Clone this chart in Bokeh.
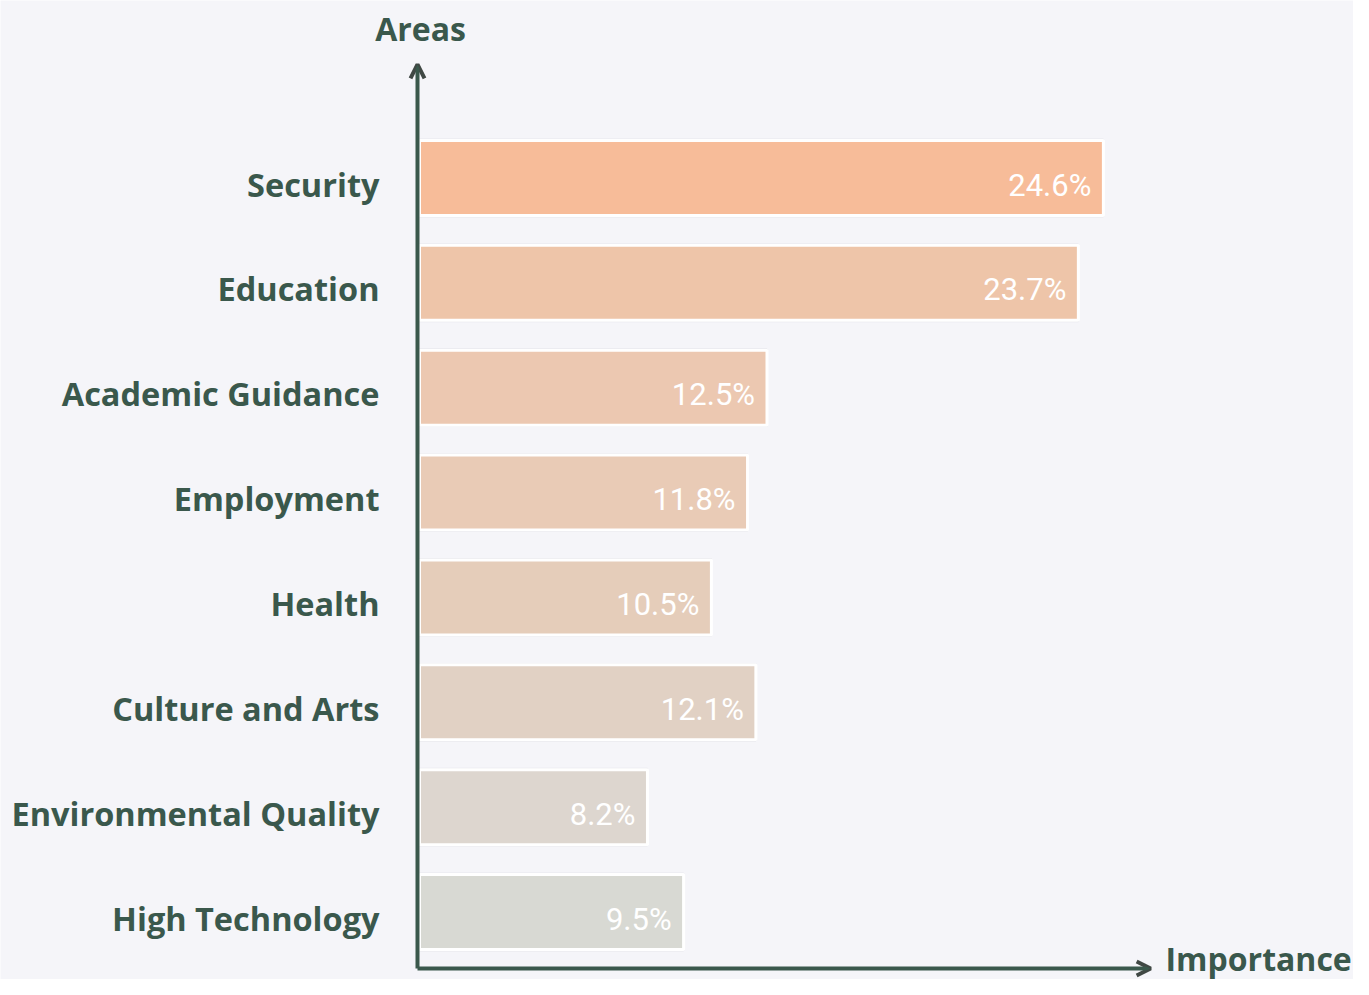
from bokeh.plotting import figure
from bokeh.models import ColumnDataSource, Range1d, Arrow, OpenHead
from bokeh.core.properties import value
from bokeh.embed import file_html
from bokeh.resources import INLINE

# ---- data ----
categories = ["Security", "Education", "Academic Guidance", "Employment",
              "Health", "Culture and Arts", "Environmental Quality", "High Technology"]
importance = [24.6, 23.7, 12.5, 11.8, 10.5, 12.1, 8.2, 9.5]
bar_colors = ["#f7bc99", "#eec5a9", "#ecc8b1", "#e9cbb6", "#e5cdba", "#e1d1c4", "#ddd6cf", "#d8d9d3"]
value_labels = ["%.1f%%" % v for v in importance]
x_title = "Importance"
y_title = "Areas"

# ---- layout ----
W, H = 1353, 979
BG = "#f5f5f9"
TXT = "#3a584c"
n = len(categories)
ypos = [n - 1 - i for i in range(n)]

src = ColumnDataSource(dict(cat=categories, val=importance, y=ypos,
                            color=bar_colors, lab=value_labels))

p = figure(width=W, height=H, output_backend="svg", toolbar_location=None,
           x_range=Range1d(-15.072, 33.597), y_range=Range1d(-0.6437, 8.6928),
           x_axis_location=None, y_axis_location=None,
           background_fill_color=BG, border_fill_color=BG,
           min_border=0, outline_line_color=None)
p.grid.visible = False

# subtle shadow outline
p.hbar(y="y", right="val", left=0, height=0.74, source=src,
       fill_color=None, line_color="#dcdce2", line_width=1)
# bars
p.hbar(y="y", right="val", left=0, height=0.715, source=src,
       fill_color="color", line_color="white", line_width=3)

# value labels
p.text(x="val", y="y", text="lab", source=src, text_align="right",
       text_baseline="middle", x_offset=-12, y_offset=7,
       text_color="white", text_font=value("Roboto"), text_font_size="31px")

# category labels
p.text(x=0, y="y", text="cat", source=src, text_align="right",
       text_baseline="middle", x_offset=-40, y_offset=6,
       text_color=TXT, text_font=value("Open Sans"), text_font_style="bold",
       text_font_size="32.5px")

# axes arrows
ax_x0 = -0.072
ax_y0 = -0.539
head_col = "#404844"
p.add_layout(Arrow(end=OpenHead(size=14, line_width=4, line_color=head_col),
                   x_start=ax_x0, y_start=ax_y0, x_end=ax_x0, y_end=8.083,
                   line_color=TXT, line_width=4))
p.add_layout(Arrow(end=OpenHead(size=14, line_width=4, line_color=head_col),
                   x_start=ax_x0, y_start=ax_y0, x_end=26.3, y_end=ax_y0,
                   line_color=TXT, line_width=4))

# axis titles
p.text(x=[ax_x0], y=[8.426], text=[y_title], text_align="center",
       text_baseline="middle", x_offset=3, text_color=TXT,
       text_font=value("Open Sans"), text_font_style="bold", text_font_size="32px")
p.text(x=[26.835], y=[ax_y0], text=[x_title], text_align="left",
       text_baseline="bottom", y_offset=11, text_color=TXT,
       text_font=value("Open Sans"), text_font_style="bold", text_font_size="32px")

open("out.html", "w").write(file_html(p, INLINE))
